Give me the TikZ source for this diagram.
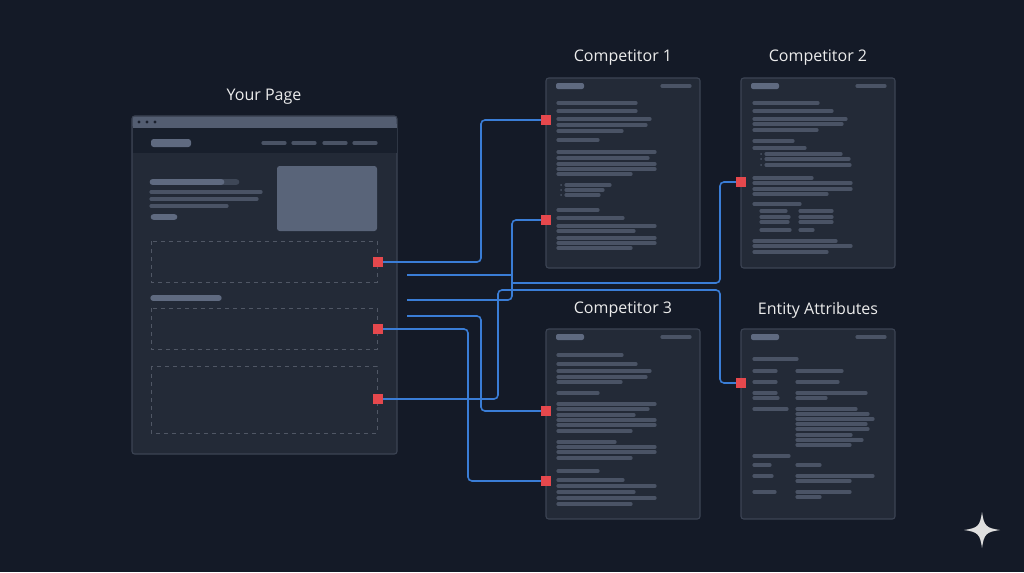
\documentclass[tikz,border=0pt]{standalone}
\usepackage{fontspec}
\setmainfont{Open Sans}
\definecolor{bg}{HTML}{141A27}
\definecolor{card}{HTML}{232A37}
\definecolor{cardb}{HTML}{3C4454}
\definecolor{gl}{HTML}{4A5365}
\definecolor{gll}{HTML}{5F6A80}
\definecolor{blu}{HTML}{3A7DD6}
\definecolor{rd}{HTML}{E5484D}
\newcommand\gl[3]{\draw[gline] (#1,#3) -- (#2,#3);}
\begin{document}
\begin{tikzpicture}[x=0.75pt,y=-0.75pt,
  gline/.style={gl,line width=2.4pt,line cap=round},
  cardst/.style={fill=card,draw=cardb,line width=0.8pt,rounded corners=2pt},
  conn/.style={blu,line width=1.2pt,rounded corners=3pt},
  sq/.style={fill=rd,minimum size=7.5pt,inner sep=0pt,draw=none},
  ttl/.style={text=white!85!gray,font=\fontsize{12}{14}\selectfont}]
\fill[bg] (0,0) rectangle (1024,572);
\useasboundingbox (0,0) rectangle (1024,572);
% titles
\node[ttl] (t0) at (264,97) {Your Page};
\node[ttl] (t1) at (623,58) {Competitor 1};
\node[ttl] (t2) at (818,58) {Competitor 2};
\node[ttl] (t3) at (623,310) {Competitor 3};
\node[ttl] (t4) at (818,310) {Entity Attributes};
% your page
\draw[cardst] (132,116) rectangle (397,454);
\fill[gll!80!card,rounded corners=2pt] (132.5,116.5) rectangle (396.5,128);
\fill[gll!80!card] (132.5,124) rectangle (396.5,128);
\fill[bg!70!card] (132.5,128) rectangle (396.5,153);
\foreach \x in {139,147,155} \fill[bg!60!card] (\x,122) circle (1.6);
\fill[gll,rounded corners=2pt] (151,139) rectangle (191,147);
\foreach \a in {263,293,324,354} \draw[gline] (\a,143) -- (\a+22,143);
\draw[gline,gl!70!card,line width=5pt] (153,182) -- (236,182);
\draw[gline,gll,line width=5pt] (153,182) -- (221,182);
\gl{151}{261}{192}\gl{151}{257}{199}\gl{151}{227}{206}
\draw[gline,gll,line width=5pt] (154,217) -- (174,217);
\fill[gll!90!card,rounded corners=2pt] (277,166) rectangle (377,231);
\draw[gline,gll,line width=4pt] (153,298) -- (219,298);
\foreach \a/\b in {241/282,308/349,366/433}
  \draw[cardb!90!white,dashed,line width=0.6pt] (151,\a) rectangle (377,\b);
% cards
\foreach \x/\y in {546/78,741/78,546/329,741/329}{
  \draw[cardst] (\x,\y) rectangle (\x+154,\y+190);
  \fill[gll,rounded corners=1.5pt] (\x+10,\y+5) rectangle (\x+38,\y+11);
  \draw[gline] (\x+116,\y+8) -- (\x+144,\y+8);}
% competitor 1
\gl{558}{636}{103}\gl{558}{636}{111}\gl{558}{650}{119}\gl{558}{646}{125}\gl{558}{622}{131}
\gl{558}{598}{140}\gl{558}{655}{152}\gl{558}{648}{158}\gl{558}{655}{164}\gl{558}{655}{169}\gl{558}{631}{174}
\foreach \y/\e in {185/610,190/603,195/599}{\fill[gl] (561,\y) circle (1); \gl{566}{\e}{\y}}
\gl{558}{598}{210}\gl{558}{623}{218}\gl{558}{655}{226}\gl{558}{634}{231}\gl{558}{655}{238}\gl{558}{655}{243}\gl{558}{631}{248}
% competitor 3
\gl{558}{622}{355}\gl{558}{636}{364}\gl{558}{650}{371}\gl{558}{646}{377}\gl{558}{621}{382}
\gl{558}{598}{393}\gl{558}{655}{404}\gl{558}{648}{409}\gl{558}{634}{415}\gl{558}{655}{420}\gl{558}{655}{425}\gl{558}{631}{431}
\gl{558}{615}{442}\gl{558}{655}{447}\gl{558}{655}{452}\gl{558}{631}{458}
\gl{558}{598}{471}\gl{558}{623}{480}\gl{558}{655}{486}\gl{558}{634}{492}\gl{558}{655}{498}\gl{558}{631}{504}
% competitor 2
\gl{754}{818}{103}\gl{754}{832}{111}\gl{754}{846}{119}\gl{754}{842}{124}\gl{754}{817}{130}
\gl{754}{793}{141}\gl{754}{805}{148}
\foreach \y/\e in {154/841,159/849,165/850}{\fill[gl] (761,\y) circle (1); \gl{766}{\e}{\y}}
\gl{754}{812}{178}\gl{754}{851}{183}\gl{754}{851}{189}\gl{754}{827}{194}\gl{754}{800}{204}
\gl{761}{786}{211}\gl{761}{789}{217}\gl{761}{788}{222}\gl{761}{790}{230}
\gl{800}{832}{211}\gl{800}{832}{217}\gl{800}{832}{222}\gl{800}{813}{230}
\gl{754}{836}{241}\gl{754}{851}{246}\gl{754}{827}{252}
% entity
\gl{754}{797}{359}
\gl{754}{776}{371}\gl{797}{842}{371}\gl{754}{776}{382}\gl{797}{838}{382}
\gl{754}{776}{393}\gl{797}{866}{393}\gl{754}{778}{398}\gl{797}{826}{398}
\gl{754}{787}{409}\gl{797}{856}{409}\gl{797}{868}{414}\gl{797}{873}{419}\gl{797}{866}{424}
\gl{797}{868}{429}\gl{797}{851}{435}\gl{797}{862}{440}\gl{797}{850}{445}
\gl{754}{789}{456}\gl{754}{770}{465}\gl{797}{820}{465}
\gl{754}{772}{476}\gl{797}{873}{476}\gl{797}{850}{481}
\gl{754}{775}{492}\gl{797}{850}{492}\gl{797}{820}{497}
% connector end points
\coordinate (f1) at (407,275);
\coordinate (f2) at (407,300);
\coordinate (f3) at (407,316);
\coordinate (j1) at (512,283);
% connectors
\draw[conn] (378,262) -| (481,120) -- (546,120);
\draw[conn] (f2) -| (512,220) -- (546,220);
\draw[conn] (f1) -- (512,275);
\draw[conn] (j1) -- (720,283) |- (741,182);
\draw[conn] (378,399) -| (498,290) -| (720,383) -- (741,383);
\draw[conn] (f3) -| (481,411) -- (546,411);
\draw[conn] (378,329) -| (468,481) -- (546,481);
% squares
\foreach \n/\x/\y in {s1/378/262,s2/378/329,s3/378/399,s4/546/120,s5/546/220,s6/741/182,s7/546/411,s8/546/481,s9/741/383}
  \node[sq] (\n) at (\x,\y) {};
% sparkle
\fill[white!75!gray] (982,512) .. controls (984,526) and (986,528) .. (1000,530)
  .. controls (986,532) and (984,534) .. (982,548)
  .. controls (980,534) and (978,532) .. (964,530)
  .. controls (978,528) and (980,526) .. (982,512) -- cycle;
\end{tikzpicture}
\end{document}
